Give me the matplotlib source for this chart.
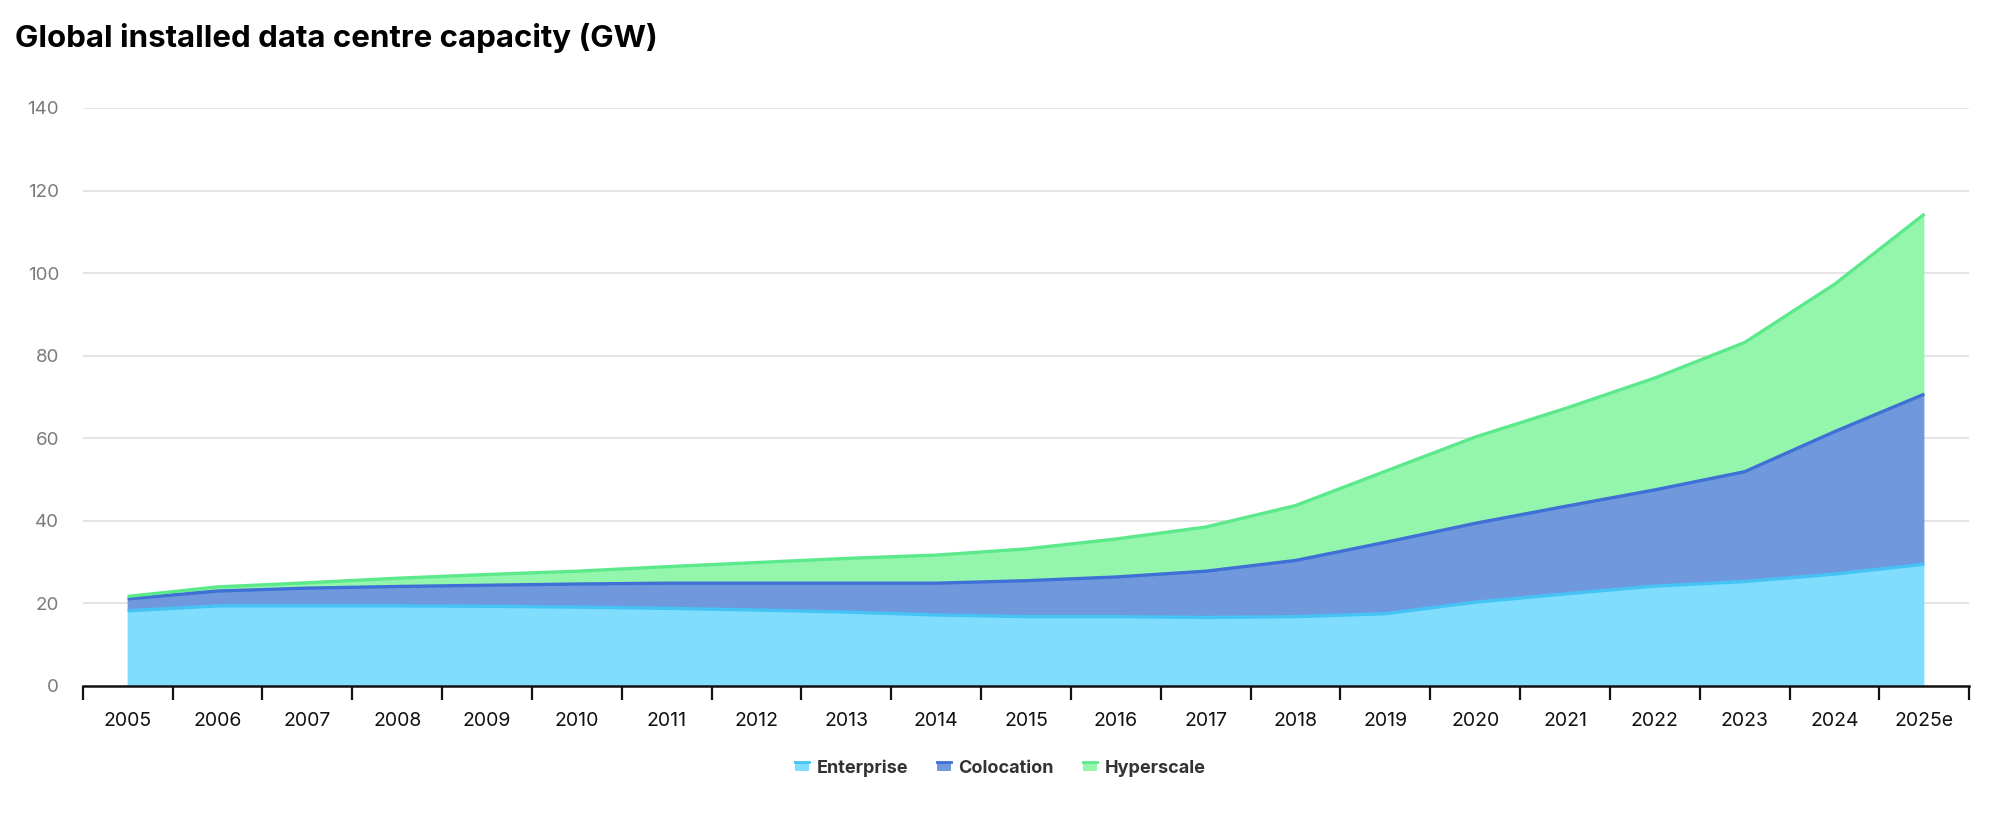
import matplotlib
matplotlib.use("Agg")
import matplotlib.pyplot as plt
import numpy as np
from matplotlib.patches import Rectangle
from matplotlib.lines import Line2D
from matplotlib.legend_handler import HandlerBase

years = ["2005", "2006", "2007", "2008", "2009", "2010", "2011", "2012", "2013", "2014",
         "2015", "2016", "2017", "2018", "2019", "2020", "2021", "2022", "2023", "2024", "2025e"]
enterprise = [18.2, 19.4, 19.4, 19.4, 19.3, 19.1, 18.8, 18.4, 17.9, 17.2,
              16.8, 16.8, 16.6, 16.8, 17.5, 20.3, 22.3, 24.2, 25.3, 27.1, 29.5]
colocation = [2.9, 3.6, 4.3, 4.7, 5.1, 5.6, 6.1, 6.5, 7.0, 7.7,
              8.7, 9.6, 11.2, 13.6, 17.3, 19.1, 21.2, 23.3, 26.6, 34.5, 41.2]
hyperscale = [0.6, 1.0, 1.3, 2.0, 2.6, 3.1, 4.0, 5.0, 6.0, 6.8,
              7.7, 9.2, 10.7, 13.3, 17.2, 20.9, 23.7, 27.1, 31.3, 35.7, 43.6]
series_names = ["Enterprise", "Colocation", "Hyperscale"]
y_ticks = [0, 20, 40, 60, 80, 100, 120, 140]

fill_colors = ["#81ddfd", "#7099dd", "#94f6ad"]
line_colors = ["#45c3f5", "#3f70d6", "#5ce98c"]

plt.rcParams['font.family'] = ['Inter', 'DejaVu Sans']

fig = plt.figure(figsize=(20, 8.15), dpi=100)
ax = fig.add_axes([0.04135, 0.1583, 0.9433, 0.7092])

x = np.arange(len(years))
data = [enterprise, colocation, hyperscale]
ax.stackplot(x, *data, colors=fill_colors, linewidth=0, zorder=2)
cum = np.cumsum(np.array(data), axis=0)
for i in range(3):
    ax.plot(x, cum[i], color=line_colors[i], lw=2.4, zorder=3, solid_capstyle='butt')

ax.set_xlim(-0.5, len(years) - 0.5)
ax.set_ylim(0, 140)

ax.set_yticks(y_ticks)
ax.set_yticklabels([str(v) for v in y_ticks])
ax.tick_params(axis='y', length=0, pad=17, labelsize=13.5, labelcolor='#7a7a7a')
ax.yaxis.grid(True, color='#e3e3e3', lw=1.3, zorder=0)
ax.set_axisbelow(True)

ax.set_xticks(np.arange(len(years) + 1) - 0.5)
ax.set_xticklabels([])
ax.tick_params(axis='x', which='major', length=10, width=1.6, color='#111111', direction='out')
ax.set_xticks(x, minor=True)
ax.set_xticklabels(years, minor=True)
ax.tick_params(axis='x', which='minor', length=0, pad=19, labelsize=14, labelcolor='#111111')

for s in ['top', 'right', 'left']:
    ax.spines[s].set_visible(False)
ax.spines['bottom'].set_color('#111111')
ax.spines['bottom'].set_linewidth(1.8)
ax.spines['bottom'].set_zorder(5)


class TopLineHandler(HandlerBase):
    def __init__(self, fc, lc):
        super().__init__()
        self.fc = fc
        self.lc = lc

    def create_artists(self, legend, orig_handle, xdescent, ydescent, width, height, fontsize, trans):
        h = height * 0.75
        y0 = -ydescent + (height - h) / 2
        r = Rectangle((-xdescent, y0), width, h, facecolor=self.fc, edgecolor='none', transform=trans)
        ln = Line2D([-xdescent, -xdescent + width], [y0 + h, y0 + h], color=self.lc, lw=2, transform=trans)
        return [r, ln]


handles = [Rectangle((0, 0), 1, 1) for _ in series_names]
hmap = {handles[i]: TopLineHandler(fill_colors[i], line_colors[i]) for i in range(3)}
leg = fig.legend(handles, series_names, handler_map=hmap, loc='center', bbox_to_anchor=(0.5, 0.0577),
                 ncol=3, frameon=False, handlelength=0.8, handleheight=0.7, handletextpad=0.4,
                 columnspacing=1.6, prop={'size': 13, 'weight': 'bold'})
for t in leg.get_texts():
    t.set_color('#333333')

fig.text(0.0075, 0.9427, "Global installed data centre capacity (GW)", fontsize=22.5,
         fontweight='bold', color='#000000', ha='left', va='baseline')

fig.savefig("out.png", dpi=100)
